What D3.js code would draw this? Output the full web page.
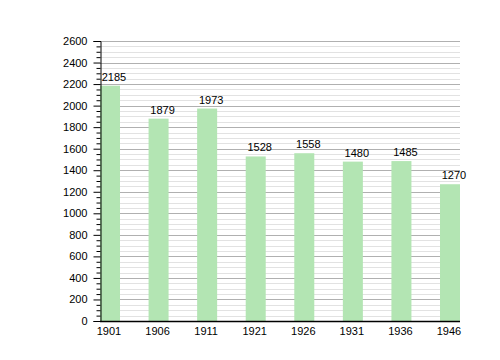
<!DOCTYPE html>
<html><head><meta charset="utf-8">
<script src="https://cdn.jsdelivr.net/npm/d3@7/dist/d3.min.js"></script>
<style>body{margin:0;background:#fff}svg{display:block}text{font-family:"Liberation Sans",Arial,sans-serif;}</style>
</head><body>
<svg id="c" width="500" height="360"></svg>
<script>
const years = ["1901","1906","1911","1921","1926","1931","1936","1946"];
const population = [2185,1879,1973,1528,1558,1480,1485,1270];
const yTicks = [0,200,400,600,800,1000,1200,1400,1600,1800,2000,2200,2400,2600];

(function(){
const svg = d3.select("#c");
const mL = 100, mR = 460, mT = 41, mB = 321, barW = 20;
const y = d3.scaleLinear().domain([0,2600]).range([mB, mT]);
const x = d3.scalePoint().domain(years).range([mL, mR - barW]);

const minor = d3.range(50, 2601, 50).filter(v => v % 200 !== 0);
svg.append("g").selectAll("line").data(minor).join("line")
  .attr("x1", mL).attr("x2", mR).attr("y1", d => Math.round(y(d))+0.5).attr("y2", d => Math.round(y(d))+0.5)
  .attr("stroke", "#e2e2e2").attr("stroke-width", 1);
svg.append("g").selectAll("line").data(yTicks.filter(v=>v>0)).join("line")
  .attr("x1", mL).attr("x2", mR).attr("y1", d => Math.round(y(d))+0.5).attr("y2", d => Math.round(y(d))+0.5)
  .attr("stroke", "#b0b0b0").attr("stroke-width", 1);

svg.append("g").selectAll("rect").data(years).join("rect")
  .attr("x", d => x(d)).attr("width", barW)
  .attr("y", (d,i) => y(population[i])).attr("height", (d,i) => mB - y(population[i]))
  .attr("fill", "#b3e5b3");

svg.append("g").selectAll("text").data(years).join("text")
  .attr("x", d => x(d) + 14).attr("y", (d,i) => y(population[i]) - 5)
  .attr("text-anchor", "middle").attr("font-size", 11).attr("fill", "#000")
  .text((d,i) => population[i]);

const ya = svg.append("g").attr("transform", `translate(${mL+0.5},0)`)
  .call(d3.axisLeft(y).tickValues(yTicks).tickSize(7).tickPadding(6).tickFormat(d3.format("d")));
ya.select(".domain").attr("stroke", "#000");
ya.selectAll("text").attr("font-size", 11).attr("fill", "#000").attr("font-family", '"Liberation Sans",Arial,sans-serif');
svg.append("g").attr("transform", `translate(${mL+0.5},0)`)
  .call(d3.axisLeft(y).tickValues(minor).tickSize(4).tickFormat(""))
  .select(".domain").remove();

svg.append("line").attr("x1", mL).attr("x2", mR).attr("y1", mB+0.5).attr("y2", mB+0.5)
  .attr("stroke", "#000").attr("stroke-width", 1.5);
svg.append("g").selectAll("text").data(years).join("text")
  .attr("x", d => x(d) + 9).attr("y", mB + 14)
  .attr("text-anchor", "middle").attr("font-size", 11).attr("fill", "#000")
  .text(d => d);
})();
</script>
</body></html>
